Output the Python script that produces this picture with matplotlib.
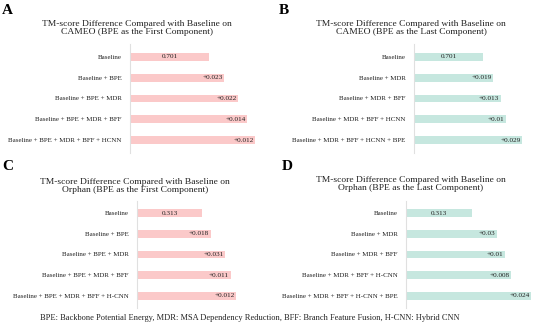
import matplotlib.pyplot as plt

# ==========================
# Dados
# ==========================
labels_a = ["Baseline", "Baseline + BPE", "Baseline + BPE + MDR",
            "Baseline + BPE + MDR + BFF", "Baseline + BPE + MDR + BFF + HCNN"]
labels_b = ["Baseline", "Baseline + MDR", "Baseline + MDR + BFF",
            "Baseline + MDR + BFF + HCNN", "Baseline + MDR + BFF + HCNN + BPE"]
labels_c = ["Baseline", "Baseline + BPE", "Baseline + BPE + MDR",
            "Baseline + BPE + MDR + BFF", "Baseline + BPE + MDR + BFF + H-CNN"]
labels_d = ["Baseline", "Baseline + MDR", "Baseline + MDR + BFF",
            "Baseline + MDR + BFF + H-CNN", "Baseline + MDR + BFF + H-CNN + BPE"]

# baseline TM-score followed by the increments of each added component
deltas_a = [0.701, 0.023, 0.022, 0.014, 0.012]
deltas_b = [0.701, 0.019, 0.013, 0.010, 0.029]
deltas_c = [0.313, 0.018, 0.031, 0.011, 0.012]
deltas_d = [0.313, 0.030, 0.010, 0.008, 0.024]

titles = [
    "TM-score Difference Compared with Baseline on\nCAMEO (BPE as the First Component)",
    "TM-score Difference Compared with Baseline on\nCAMEO (BPE as the Last Component)",
    "TM-score Difference Compared with Baseline on\nOrphan (BPE as the First Component)",
    "TM-score Difference Compared with Baseline on\nOrphan (BPE as the Last Component)",
]
footer = ("BPE: Backbone Potential Energy, MDR: MSA Dependency Reduction, "
          "BFF: Branch Feature Fusion, H-CNN: Hybrid CNN")

pink = "#fbc9c9"
teal = "#c6e7df"

plt.rcParams['font.family'] = ['Liberation Serif', 'DejaVu Serif']

W, H = 546, 324
fig = plt.figure(figsize=(W / 100, H / 100), dpi=100)


def px_axes(x0, x1, ytop, ybot):
    return fig.add_axes([x0 / W, 1 - ybot / H, (x1 - x0) / W, (ybot - ytop) / H])


def panel(ax, labels, deltas, color, xlim):
    cum = []
    total = 0
    for d in deltas:
        total += d
        cum.append(total)
    y = list(range(len(labels)))
    ax.barh(y, cum, height=0.38, color=color)
    for i, (c, d) in enumerate(zip(cum, deltas)):
        if i == 0:
            ax.text((xlim[0] + c) / 2, i, f"{d:.3f}", ha="center", va="center",
                    fontsize=5.2, color="#222222")
        else:
            ax.text(c - (xlim[1] - xlim[0]) * 0.012, i, f"+{d:g}", ha="right",
                    va="center", fontsize=5.2, color="#222222")
    ax.set_yticks(y)
    ax.set_yticklabels(labels, fontsize=5, color="#222222")
    ax.tick_params(axis="y", length=0, pad=6)
    ax.set_xticks([])
    ax.set_xlim(*xlim)
    ax.set_ylim(4.6, -0.6)
    for s in ["top", "right", "bottom"]:
        ax.spines[s].set_visible(False)
    ax.spines["left"].set_color("#e0e0e0")
    ax.spines["left"].set_linewidth(0.8)


ax_a = px_axes(130, 265, 44.5, 152.5)
ax_b = px_axes(414, 540, 44.5, 152.5)
ax_c = px_axes(137, 265, 201, 308)
ax_d = px_axes(406, 540, 201, 308)

panel(ax_a, labels_a, deltas_a, pink, (0.579, 0.787))
panel(ax_b, labels_b, deltas_b, teal, (0.575, 0.805))
panel(ax_c, labels_c, deltas_c, pink, (0.175, 0.446))
panel(ax_d, labels_d, deltas_d, teal, (0.2324, 0.396))

# titles
for (cx, cy), t in zip([(137, 28), (411, 28), (135, 186), (411, 184)], titles):
    fig.text(cx / W, 1 - cy / H, t, ha="center", va="center", fontsize=6.8,
             linespacing=1.1, color="#222222")

# panel letters
for (lx, ly), l in zip([(2, 10), (279, 10), (2, 166), (282, 167)], "ABCD"):
    fig.text(lx / W, 1 - ly / H, l, ha="left", va="center", fontsize=11,
             fontweight="bold")

fig.text(250 / W, 1 - 318 / H, footer, ha="center", va="center", fontsize=6.0,
         color="#222222")

plt.savefig("out.png", dpi=100)
plt.close()
